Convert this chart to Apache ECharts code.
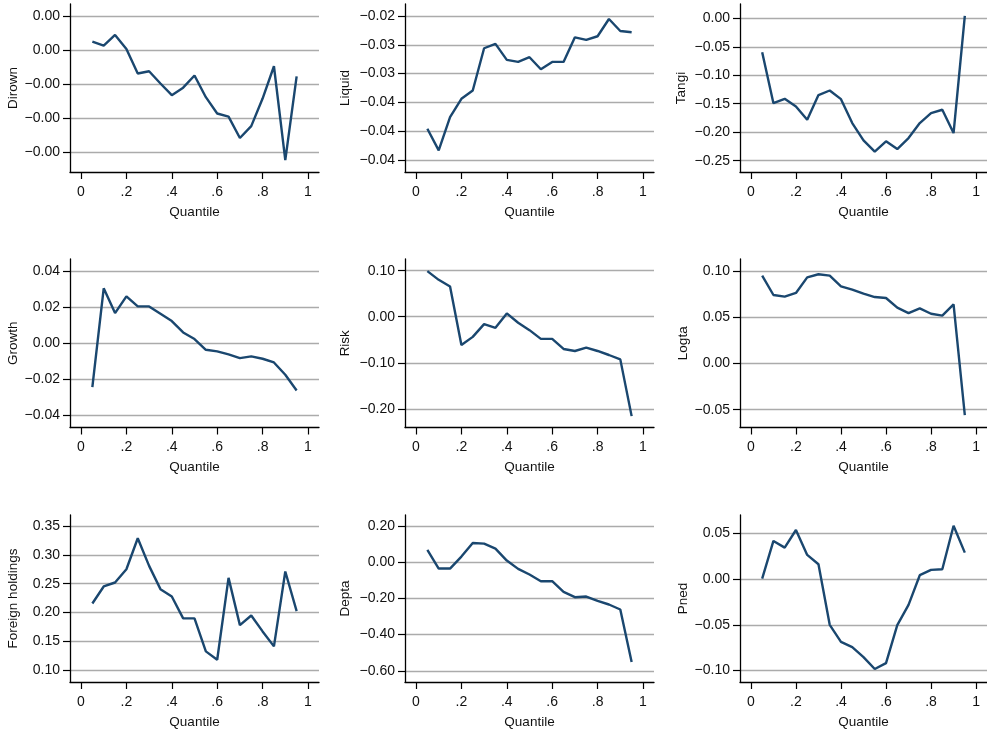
<!DOCTYPE html>
<html>
<head>
<meta charset="utf-8">
<script src="https://cdn.jsdelivr.net/npm/echarts@6/dist/echarts.min.js"></script>
<style>
html,body{margin:0;padding:0;background:#fff;}
#chart{width:987px;height:734px;}
</style>
</head>
<body>
<div id="chart"></div>
<script>
// ---- Data ----
const quantiles = [0.05,0.10,0.15,0.20,0.25,0.30,0.35,0.40,0.45,0.50,0.55,0.60,0.65,0.70,0.75,0.80,0.85,0.90,0.95];

const dirown = [0.000245,0.000127,0.00044,0.00003,-0.000694,-0.000626,-0.000988,-0.00133,-0.00111,-0.000753,-0.00139,-0.00187,-0.00196,-0.00259,-0.00224,-0.00143,-0.00048,-0.00324,-0.00078];
const liquid = [-0.03957,-0.04333,-0.03755,-0.03438,-0.03293,-0.0256,-0.02485,-0.02762,-0.02797,-0.02716,-0.02924,-0.02797,-0.02797,-0.0237,-0.02416,-0.02352,-0.02052,-0.0226,-0.02283];
const tangi = [-0.0596,-0.149,-0.1414,-0.1548,-0.178,-0.1349,-0.1268,-0.142,-0.184,-0.2144,-0.2342,-0.2161,-0.2296,-0.2103,-0.184,-0.1665,-0.1606,-0.2015,0.0041];
const growth = [-0.02439,0.0303,0.01663,0.02587,0.02032,0.02032,0.01626,0.01219,0.00591,0.00222,-0.0037,-0.00462,-0.00628,-0.00831,-0.00739,-0.00868,-0.01072,-0.01755,-0.02624];
const risk = [0.0991,0.0801,0.0655,-0.0612,-0.0437,-0.016,-0.024,0.0073,-0.0131,-0.0291,-0.0481,-0.0481,-0.0699,-0.0743,-0.067,-0.0743,-0.083,-0.0925,-0.2156];
const logta = [0.0948,0.0739,0.0721,0.0761,0.093,0.0963,0.0948,0.0833,0.0797,0.0753,0.0717,0.0707,0.0602,0.0544,0.0595,0.0537,0.0516,0.0638,-0.0559];
const foreignHoldings = [0.2158,0.2452,0.2521,0.2751,0.3287,0.2809,0.2406,0.2279,0.1899,0.1899,0.1328,0.1184,0.2601,0.1783,0.195,0.1674,0.1415,0.2711,0.2025];
const depta = [0.068,-0.0349,-0.0349,0.0313,0.1067,0.103,0.0754,0.0092,-0.0368,-0.068,-0.1048,-0.1048,-0.1637,-0.1931,-0.1894,-0.2133,-0.2336,-0.2611,-0.5517];
const pned = [0.0007,0.0419,0.0346,0.0539,0.0266,0.0164,-0.0499,-0.0685,-0.0743,-0.0852,-0.0983,-0.0918,-0.0503,-0.028,0.0044,0.0102,0.0109,0.0586,0.0291];

// ---- Tick values ----
const xTicks = [0,0.2,0.4,0.6,0.8,1];
const dirownTicks = [0.001,0,-0.001,-0.002,-0.003];
const liquidTicks = [-0.02,-0.025,-0.03,-0.035,-0.04,-0.045];
const tangiTicks = [0,-0.05,-0.1,-0.15,-0.2,-0.25];
const growthTicks = [0.04,0.02,0,-0.02,-0.04];
const riskTicks = [0.1,0,-0.1,-0.2];
const logtaTicks = [0.1,0.05,0,-0.05];
const foreignTicks = [0.35,0.3,0.25,0.2,0.15,0.1];
const deptaTicks = [0.2,0,-0.2,-0.4,-0.6];
const pnedTicks = [0.05,0,-0.05,-0.1];

// ---- Panel layout ----
const panels = [
  {name:'Dirown', data:dirown, ticks:dirownTicks, min:-0.00359, max:0.00135, gap:50},
  {name:'Liquid', data:liquid, ticks:liquidTicks, min:-0.04708, max:-0.01792, gap:53},
  {name:'Tangi', data:tangi, ticks:tangiTicks, min:-0.2699, max:0.0251, gap:52},
  {name:'Growth', data:growth, ticks:growthTicks, min:-0.04674, max:0.04656, gap:50},
  {name:'Risk', data:risk, ticks:riskTicks, min:-0.2403, max:0.1253, gap:53},
  {name:'Logta', data:logta, ticks:logtaTicks, min:-0.0692, max:0.1128, gap:43},
  {name:'Foreign holdings', data:foreignHoldings, ticks:foreignTicks, min:0.0798, max:0.369, gap:50},
  {name:'Depta', data:depta, ticks:deptaTicks, min:-0.662, max:0.2612, gap:53},
  {name:'Pned', data:pned, ticks:pnedTicks, min:-0.1125, max:0.0703, gap:43}
];
const colLefts = [70, 405, 740];
const rowTops = [4, 259, 515];
const rowHeights = [168, 168.5, 167];
const plotWidth = 249;

const FONT = '"Liberation Sans", Arial, sans-serif';
const TXT = '#111';
const fmtY = v => v.toFixed(2).replace('-', '\u2212');
const fmtX = v => v === 0 ? '0' : (v === 1 ? '1' : String(v).replace(/^0/, ''));

const grid = [], xAxis = [], yAxis = [], series = [];
panels.forEach((p, i) => {
  const r = Math.floor(i / 3), c = i % 3;
  grid.push({left: colLefts[c], top: rowTops[r], width: plotWidth, height: rowHeights[r], containLabel: false});
  xAxis.push({
    type:'value', gridIndex:i, min:-0.0485, max:1.0485,
    name:'Quantile', nameLocation:'middle', nameGap:33,
    nameTextStyle:{fontFamily:FONT, fontSize:13.5, color:TXT},
    axisLine:{show:true, onZero:false, lineStyle:{color:'#000', width:1.3}},
    axisTick:{show:true, inside:false, length:7, customValues:xTicks, lineStyle:{color:'#000', width:1.2}},
    axisLabel:{show:true, customValues:xTicks, formatter:fmtX, margin:13, fontFamily:FONT, fontSize:14, color:TXT},
    splitLine:{show:false}
  });
  yAxis.push({
    type:'value', gridIndex:i, min:p.min, max:p.max,
    name:p.name, nameLocation:'middle', nameGap:p.gap, nameRotate:90,
    nameTextStyle:{fontFamily:FONT, fontSize:13.5, color:TXT},
    axisLine:{show:true, onZero:false, lineStyle:{color:'#000', width:1.3}},
    axisTick:{show:true, inside:false, length:7, customValues:p.ticks, lineStyle:{color:'#000', width:1.2}},
    axisLabel:{show:true, customValues:p.ticks, formatter:fmtY, margin:10, fontFamily:FONT, fontSize:14, color:TXT},
    splitLine:{show:true, lineStyle:{color:'#ababab', width:1.3}}
  });
  series.push({
    type:'line', xAxisIndex:i, yAxisIndex:i,
    data: quantiles.map((q, k) => [q, p.data[k]]),
    symbol:'none', lineStyle:{color:'#1a476f', width:2.4}, itemStyle:{color:'#1a476f'},
    silent:true, clip:false
  });
});

const chart = echarts.init(document.getElementById('chart'), null, {renderer:'canvas'});
chart.setOption({animation:false, backgroundColor:'#fff', grid, xAxis, yAxis, series});
</script>
</body>
</html>
